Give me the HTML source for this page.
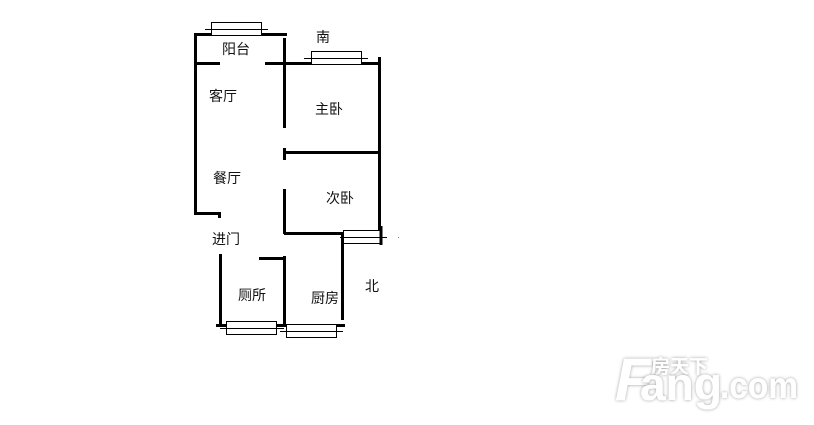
<!DOCTYPE html>
<html>
<head>
<meta charset="utf-8">
<style>
html,body{margin:0;padding:0;background:#fff;}
body{width:814px;height:425px;overflow:hidden;position:relative;}
svg{position:absolute;left:0;top:0;}
.t{font-family:"Liberation Sans","WenQuanYi Zen Hei","Noto Sans CJK SC",sans-serif;font-size:14px;fill:#111;}
.w{stroke:#000;stroke-width:3;fill:none;}
.n{stroke:#000;stroke-width:1;fill:#fff;}
.l{stroke:#000;stroke-width:1;fill:none;}
.logo{font-family:"Liberation Sans",sans-serif;font-weight:bold;fill:#fff;filter:url(#s);}
</style>
</head>
<body>
<svg width="814" height="425" viewBox="0 0 814 425" xmlns="http://www.w3.org/2000/svg">
<defs>
<filter id="s" x="-20%" y="-30%" width="140%" height="160%">
<feDropShadow dx="0" dy="0" stdDeviation="1.5" flood-color="#000" flood-opacity="0.4"/>
</filter>
</defs>
<!-- walls -->
<path class="w" d="M194 34.5H287"/>
<path class="w" d="M195.5 33V214.5"/>
<path class="w" d="M196 63.5H220"/>
<path class="w" d="M265 63.5H380"/>
<path class="w" d="M284.5 38V128"/>
<path class="w" d="M379.5 57V235"/>
<path class="w" d="M285 152.5H379"/>
<path class="w" d="M284.5 148V160"/>
<path class="w" d="M194 213.5H220"/>
<path class="w" d="M219.5 212V218"/>
<path class="w" d="M284.5 189V234"/>
<path class="w" d="M284 233.5H344"/>
<path class="w" d="M342.5 232V320"/>
<path class="w" d="M220.5 254V325"/>
<path class="w" d="M259 258.5H286"/>
<path class="w" d="M284.5 256V326"/>
<path class="w" d="M216 325.5H227"/>
<path class="w" d="M276 325.5H287"/>
<path class="w" d="M336 325.5H345"/>
<!-- windows -->
<rect class="n" x="211.5" y="22.5" width="50" height="13"/>
<path class="l" d="M205 29.5H268"/>
<rect class="n" x="311.5" y="51.5" width="50" height="13"/>
<path class="l" d="M304 58.5H368"/>
<rect class="n" x="343.5" y="230.5" width="37" height="13"/>
<path class="l" d="M340 237.5H387"/>
<path class="w" d="M381 226V245"/>
<path class="w" d="M342.5 232V246"/>
<rect class="n" x="226.5" y="321.5" width="50" height="13"/>
<path class="l" d="M220 328.5H284"/>
<rect class="n" x="286.5" y="324.5" width="50" height="13"/>
<path class="l" d="M280 331.5H343"/>
<rect x="398" y="237" width="1" height="1" fill="#888"/>
<!-- labels -->
<text class="t" x="222" y="54">阳台</text>
<text class="t" x="316" y="42">南</text>
<text class="t" x="209" y="101">客厅</text>
<text class="t" x="315" y="114">主卧</text>
<text class="t" x="213" y="183">餐厅</text>
<text class="t" x="326" y="203">次卧</text>
<text class="t" x="212" y="244">进门</text>
<text class="t" x="238" y="300">厕所</text>
<text class="t" x="311" y="303">厨房</text>
<text class="t" x="365" y="291">北</text>
<!-- watermark -->
<text class="logo" x="615" y="400" font-size="60" font-style="italic">F</text>
<text class="logo" x="651" y="373" style="font-family:'Liberation Sans','Noto Sans CJK SC',sans-serif" font-size="19">房天下</text>
<text class="logo" x="640" y="400" font-size="46" textLength="82" lengthAdjust="spacingAndGlyphs">ang</text>
<text class="logo" x="720" y="398" font-size="37" textLength="78" lengthAdjust="spacingAndGlyphs">.com</text>
</svg>
</body>
</html>
